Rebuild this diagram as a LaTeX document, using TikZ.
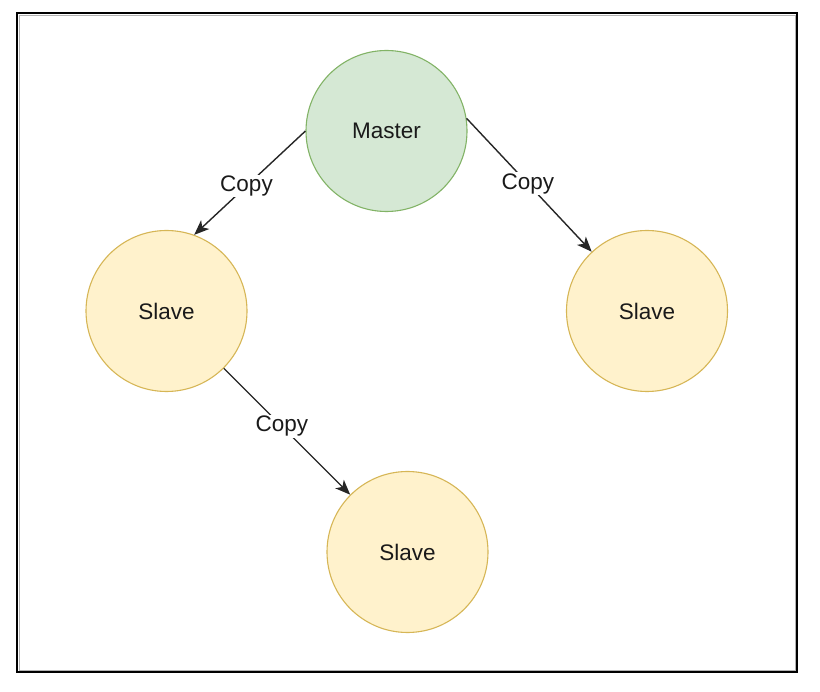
\documentclass[tikz,border=0pt]{standalone}
\usepackage{fontspec}
\setmainfont{Liberation Sans}
\usepackage{tikz}
\usetikzlibrary{arrows.meta}
\usetikzlibrary{positioning}

\definecolor{masterfill}{HTML}{D5E8D4}
\definecolor{masterline}{HTML}{82B366}
\definecolor{slavefill}{HTML}{FFF2CC}
\definecolor{slaveline}{HTML}{D6B656}
\definecolor{textgray}{HTML}{1A1A1A}

\begin{document}
\begin{tikzpicture}[x=1pt,y=-1pt,
    server/.style={circle,minimum size=161pt,inner sep=0pt,line width=1.1pt,
      font=\fontsize{22.5}{27}\selectfont,text=textgray},
    master/.style={server,draw=masterline,fill=masterfill},
    slave/.style={server,draw=slaveline,fill=slavefill},
    copylab/.style={fill=white,inner sep=1pt,font=\fontsize{22.5}{27}\selectfont,text=textgray},
    >={Stealth[length=15pt,width=12pt,inset=4pt]}]

  \useasboundingbox (0,0) rectangle (820,692);
  \draw [line width=2pt] (17,13) rectangle (797,672);
  \draw [line width=0.8pt,gray!60] (19,15) rectangle (795,670);

  \node [master] (Master) at (386.5,131) {Master};
  \node [slave] (Slave_l) at (166.5,311) {Slave};
  \node [slave] (Slave_r) at (647,311) {Slave};
  \node [slave] (Slave_b) at (407.5,552) {Slave};

  \path [line width=1.4pt,color=black!85,every edge/.append style={->}]
    (Master.180)  edge node [copylab,pos=0.53] {Copy} (Slave_l.70)
    (Master.9)    edge node [copylab,pos=0.49] {Copy} (Slave_r.133)
    (Slave_l.-45) edge node [copylab,pos=0.46] {Copy} (Slave_b.135);

\end{tikzpicture}
\end{document}
